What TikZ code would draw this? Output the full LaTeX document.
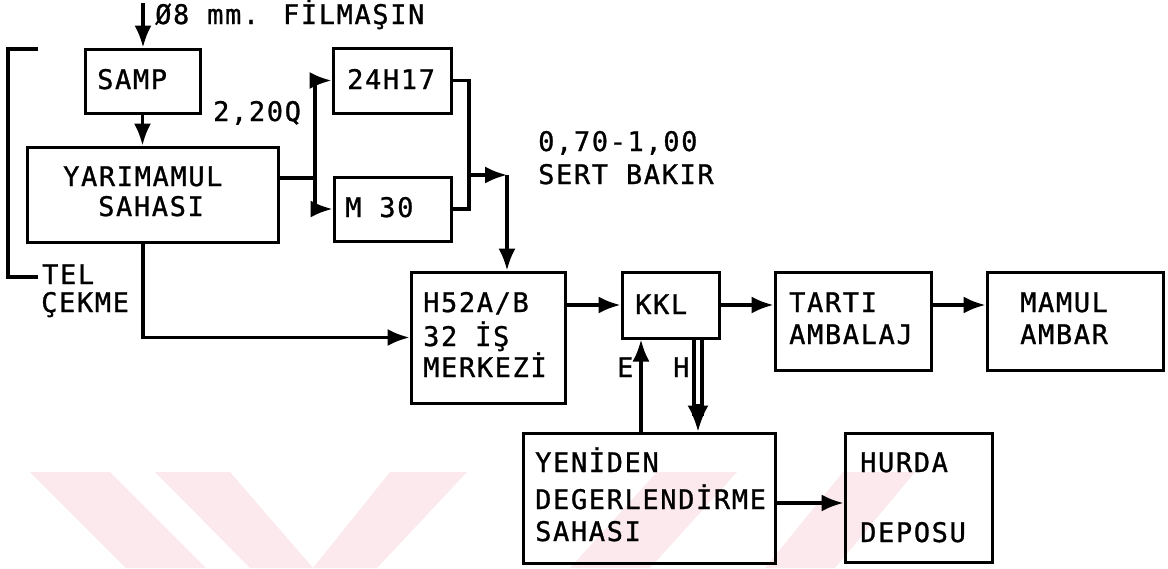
\documentclass[tikz,border=0pt]{standalone}
\usepackage{fontspec}
\newfontfamily\dmfont[LetterSpace=6,FakeBold=1]{DejaVu Sans Mono}
\usetikzlibrary{arrows.meta}
\definecolor{wmpink}{HTML}{FCE9ED}
\begin{document}
\begin{tikzpicture}[x=1pt,y=-1pt,
  box/.style={draw, line width=3pt, inner sep=0pt, rectangle},
  txt/.style={anchor=base west, inner sep=0pt, font=\dmfont\fontsize{27}{32}\selectfont},
  conn/.style={line width=3.2pt},
  arr/.style={conn, -{Latex[length=22pt,width=17pt]}},
  wm/.style={fill=wmpink, draw=none}]
\useasboundingbox (0,0) rectangle (1168,568);
\fill[white] (0,0) rectangle (1168,568);
% watermark stripes
\fill[wm] (30,472) -- (110,472) -- (206,568) -- (126,568) -- cycle;
\fill[wm] (155,472) -- (230,472) -- (313,568) -- (250,568) -- cycle;
\fill[wm] (390,472) -- (467,472) -- (377,568) -- (313,568) -- cycle;
\fill[wm] (657,472) -- (737,472) -- (650,568) -- (570,568) -- cycle;
\fill[wm] (843,472) -- (915,472) -- (835,568) -- (765,568) -- cycle;
% boxes
\node[box, minimum width=115, minimum height=64] (samp) at (142.5,81) {};
\node[box, minimum width=251, minimum height=95] (yar) at (152.5,194.5) {};
\node[box, minimum width=118, minimum height=65] (h24) at (392,80.5) {};
\node[box, minimum width=117, minimum height=64] (m30) at (392.5,209) {};
\node[box, minimum width=154, minimum height=131] (h52) at (488,337.5) {};
\node[box, minimum width=97, minimum height=66] (kkl) at (670.5,305) {};
\node[box, minimum width=156, minimum height=98] (tarti) at (853,321) {};
\node[box, minimum width=176, minimum height=98] (mamul) at (1075,321) {};
\node[box, minimum width=252, minimum height=130] (yen) at (649,498) {};
\node[box, minimum width=147, minimum height=129] (hurda) at (918.5,497.5) {};
% texts
\node[txt] (tfil) at (155,24) {Ø8 mm. FİLMAŞIN};
\node[txt] (tsamp) at (97,89) {SAMP};
\node[txt] (t220) at (213,121) {2,20Q};
\node[txt] (tyar1) at (63,186) {YARIMAMUL};
\node[txt] (tyar2) at (98,216) {SAHASI};
\node[txt] (th24) at (347,89) {24H17};
\node[txt] (tm30) at (345,217) {M 30};
\node[txt] (tsert1) at (538,151) {0,70-1,00};
\node[txt] (tsert2) at (538,184) {SERT BAKIR};
\node[txt] (ttel1) at (42,284) {TEL};
\node[txt] (ttel2) at (41,312) {ÇEKME};
\node[txt] (th521) at (423,312) {H52A/B};
\node[txt] (th522) at (423,346) {32 İŞ};
\node[txt] (th523) at (423,377) {MERKEZİ};
\node[txt] (tkkl) at (635,314) {KKL};
\node[txt] (ttar1) at (789,312) {TARTI};
\node[txt] (ttar2) at (789,344) {AMBALAJ};
\node[txt] (tmam1) at (1020,312) {MAMUL};
\node[txt] (tmam2) at (1020,344) {AMBAR};
\node[txt] (tyen1) at (535,472) {YENİDEN};
\node[txt] (tyen2) at (535,509) {DEGERLENDİRME};
\node[txt] (tyen3) at (535,541) {SAHASI};
\node[txt] (thur1) at (860,472) {HURDA};
\node[txt] (thur2) at (860,542) {DEPOSU};
\node[txt] (tE) at (617,377) {E};
\node[txt] (tH) at (673,377) {H};
% coordinates
\coordinate (in) at (143,3);
\coordinate (fb1) at (38,49);
\coordinate (fb2) at (38,277);
\coordinate (ys) at (143,242);
\coordinate (sp) at (315,178);
\coordinate (mg) at (469,175);
\coordinate (cr) at (507,175);
\coordinate (ex) at (641,0);
\coordinate (hx1) at (694,0);
\coordinate (hx2) at (702,0);
\coordinate (hxa) at (698,0);
\coordinate (yh) at (0,503);
% connectors
\draw[arr] (in) -- (in |- samp.north);
\draw[arr] (samp.south) -- (samp.south |- yar.north);
\draw[conn] (fb1) -- (8,49) -- (8,277) -- (fb2);
\draw[arr] (ys) |- (h52.west);
\draw[conn] (yar.east |- sp) -- (sp);
\draw[arr] (sp) |- (h24.west);
\draw[arr] (sp) |- (m30.west);
\draw[conn] (h24.east) -| (mg);
\draw[conn] (m30.east) -| (mg);
\draw[arr] (mg) -- (cr);
\draw[arr] (cr) -- (cr |- h52.north);
\draw[arr] (h52.east |- kkl.west) -- (kkl.west);
\draw[arr] (kkl.east) -- (kkl.east -| tarti.west);
\draw[arr] (tarti.east |- kkl.east) -- (mamul.west |- kkl.east);
\draw[arr] (ex |- yen.north) -- (ex |- kkl.south);
\draw[conn] (hx1 |- kkl.south) -- ([yshift=16]hx1 |- yen.north);
\draw[conn] (hx2 |- kkl.south) -- ([yshift=16]hx2 |- yen.north);
\draw[conn, -{Latex[length=26pt,width=21pt]}] ([yshift=28]hxa |- yen.north) -- (hxa |- yen.north);
\draw[arr] (yen.east |- yh) -- (hurda.west |- yh);
\end{tikzpicture}
\end{document}
